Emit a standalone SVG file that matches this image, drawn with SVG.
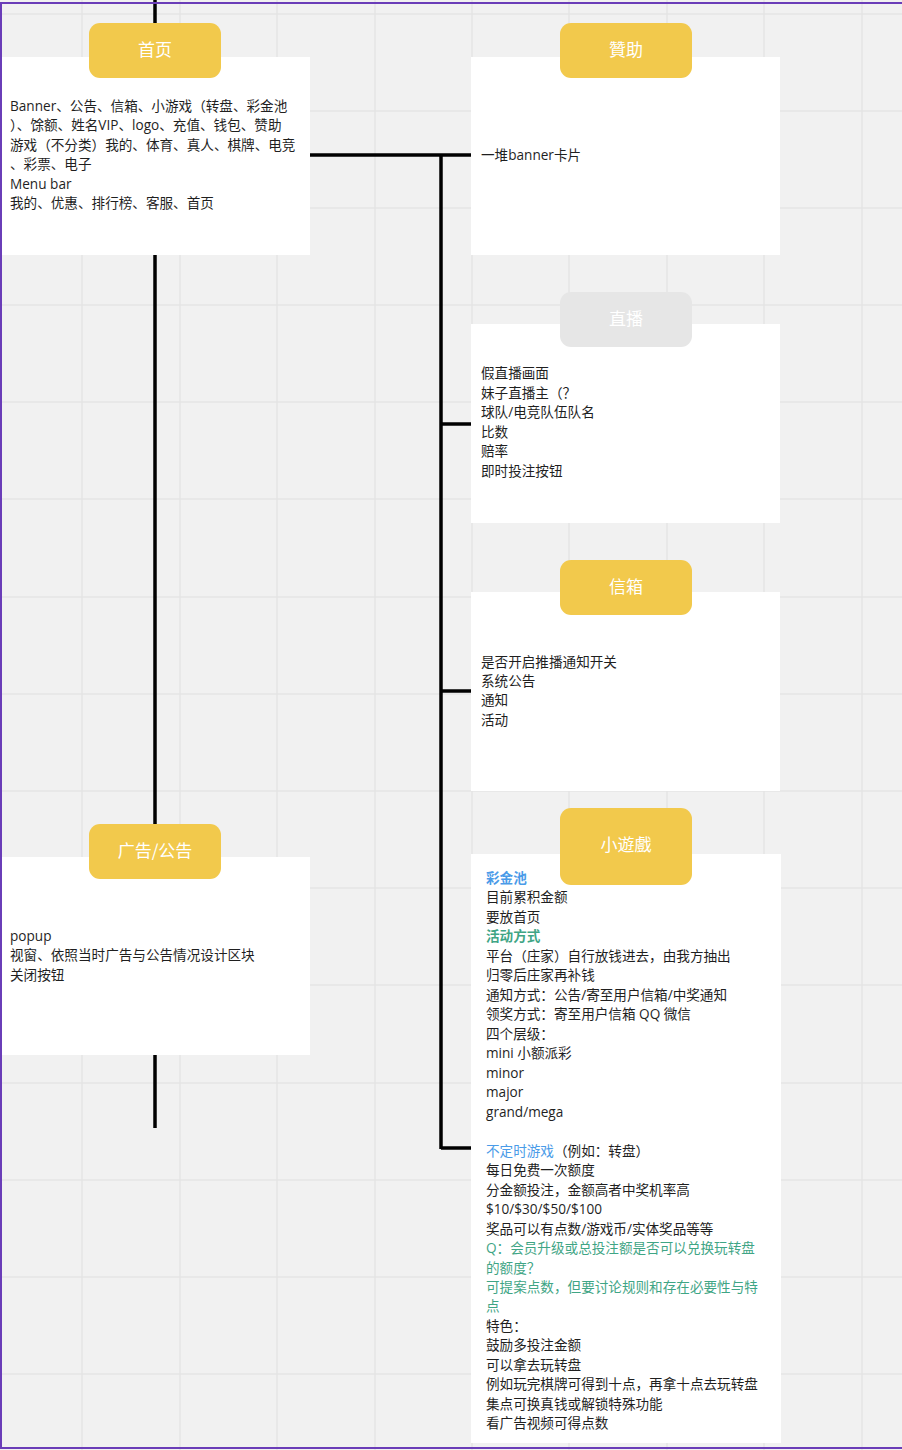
<svg xmlns="http://www.w3.org/2000/svg" width="902" height="1450" viewBox="0 0 902 1450">
<defs>
<style>
.grid line{stroke:#e4e4e4;stroke-width:1.5}
.card{fill:#ffffff}
.tag{fill:#f2c94c}
.tag-gray{fill:#e6e6e6}
.title{font-family:"Noto Sans CJK SC","Noto Sans",sans-serif;font-size:17px;fill:#ffffff;text-anchor:middle}
.body{font-family:"Open Sans","Noto Sans CJK SC",sans-serif;font-size:13.6px;fill:#1f1f1f}
.blue{fill:#4a9be8;font-weight:bold}
.blue2{fill:#4a9be8}
.green{fill:#3fa585;font-weight:bold}
.green2{fill:#3fa585}
.conn{stroke:#000000;stroke-width:3.5;fill:none}
</style>
</defs>
<rect x="0" y="0" width="902" height="1450" fill="#f1f1f1"/>
<g class="grid">
<line x1="82" y1="0" x2="82" y2="1450"/><line x1="180" y1="0" x2="180" y2="1450"/><line x1="277" y1="0" x2="277" y2="1450"/><line x1="375" y1="0" x2="375" y2="1450"/><line x1="472" y1="0" x2="472" y2="1450"/><line x1="569" y1="0" x2="569" y2="1450"/><line x1="667" y1="0" x2="667" y2="1450"/><line x1="764" y1="0" x2="764" y2="1450"/><line x1="862" y1="0" x2="862" y2="1450"/>
<line x1="0" y1="14" x2="902" y2="14"/><line x1="0" y1="111" x2="902" y2="111"/><line x1="0" y1="208" x2="902" y2="208"/><line x1="0" y1="305" x2="902" y2="305"/><line x1="0" y1="402" x2="902" y2="402"/><line x1="0" y1="499" x2="902" y2="499"/><line x1="0" y1="597" x2="902" y2="597"/><line x1="0" y1="694" x2="902" y2="694"/><line x1="0" y1="791" x2="902" y2="791"/><line x1="0" y1="888" x2="902" y2="888"/><line x1="0" y1="985" x2="902" y2="985"/><line x1="0" y1="1083" x2="902" y2="1083"/><line x1="0" y1="1180" x2="902" y2="1180"/><line x1="0" y1="1277" x2="902" y2="1277"/><line x1="0" y1="1374" x2="902" y2="1374"/>
</g>
<g id="connectors">
<line class="conn" x1="155" y1="0" x2="155" y2="1128" stroke-width="3.2"/>
<line class="conn" x1="310" y1="155" x2="471" y2="155"/>
<line class="conn" x1="441" y1="155" x2="441" y2="1149"/>
<line class="conn" x1="441" y1="424" x2="471" y2="424"/>
<line class="conn" x1="441" y1="691" x2="471" y2="691"/>
<line class="conn" x1="441" y1="1148" x2="471" y2="1148"/>
</g>
<g id="home">
<rect class="card" x="2" y="57" width="308" height="198"/>
<rect class="tag" x="89" y="23" width="132" height="55" rx="11"/>
<text class="title" x="155" y="56">首页</text>
<text class="body" x="10" y="111">Banner、公告、信箱、小游戏（转盘、彩金池</text>
<text class="body" x="10" y="130">）、馀额、姓名VIP、logo、充值、钱包、赞助</text>
<text class="body" x="10" y="150">游戏（不分类）我的、体育、真人、棋牌、电竞</text>
<text class="body" x="10" y="169">、彩票、电子</text>
<text class="body" x="10" y="189">Menu bar</text>
<text class="body" x="10" y="208">我的、优惠、排行榜、客服、首页</text>
</g>
<g id="sponsor">
<rect class="card" x="471" y="57" width="309" height="198"/>
<rect class="tag" x="560" y="23" width="132" height="55" rx="11"/>
<text class="title" x="626" y="56">贊助</text>
<text class="body" x="481" y="160">一堆banner卡片</text>
</g>
<g id="live">
<rect class="card" x="471" y="324" width="309" height="199"/>
<rect class="tag-gray" x="560" y="292" width="132" height="55" rx="11"/>
<text class="title" x="626" y="325">直播</text>
<text class="body" x="481" y="378">假直播画面</text>
<text class="body" x="481" y="398">妹子直播主（？</text>
<text class="body" x="481" y="417">球队/电竞队伍队名</text>
<text class="body" x="481" y="437">比数</text>
<text class="body" x="481" y="456">赔率</text>
<text class="body" x="481" y="476">即时投注按钮</text>
</g>
<g id="mailbox">
<rect class="card" x="471" y="592" width="309" height="199"/>
<rect class="tag" x="560" y="560" width="132" height="55" rx="11"/>
<text class="title" x="626" y="593">信箱</text>
<text class="body" x="481" y="667">是否开启推播通知开关</text>
<text class="body" x="481" y="686">系统公告</text>
<text class="body" x="481" y="705">通知</text>
<text class="body" x="481" y="725">活动</text>
</g>
<g id="ads">
<rect class="card" x="2" y="857" width="308" height="198"/>
<rect class="tag" x="89" y="824" width="132" height="55" rx="11"/>
<text class="title" x="155" y="857">广告/公告</text>
<text class="body" x="10" y="941">popup</text>
<text class="body" x="10" y="960">视窗、依照当时广告与公告情况设计区块</text>
<text class="body" x="10" y="980">关闭按钮</text>
</g>
<g id="minigame">
<rect class="card" x="471" y="854" width="310" height="589"/>
<rect class="tag" x="560" y="808" width="132" height="77" rx="11"/>
<text class="title" x="626" y="851">小遊戲</text>
<text class="body blue" x="486" y="883">彩金池</text>
<text class="body" x="486" y="902">目前累积金额</text>
<text class="body" x="486" y="922">要放首页</text>
<text class="body green" x="486" y="941">活动方式</text>
<text class="body" x="486" y="961">平台（庄家）自行放钱进去，由我方抽出</text>
<text class="body" x="486" y="980">归零后庄家再补钱</text>
<text class="body" x="486" y="1000">通知方式：公告/寄至用户信箱/中奖通知</text>
<text class="body" x="486" y="1019">领奖方式：寄至用户信箱 QQ 微信</text>
<text class="body" x="486" y="1039">四个层级：</text>
<text class="body" x="486" y="1058">mini 小额派彩</text>
<text class="body" x="486" y="1078">minor</text>
<text class="body" x="486" y="1097">major</text>
<text class="body" x="486" y="1117">grand/mega</text>
<text class="body" x="486" y="1156"><tspan class="blue2">不定时游戏</tspan>（例如：转盘）</text>
<text class="body" x="486" y="1175">每日免费一次额度</text>
<text class="body" x="486" y="1195">分金额投注，金额高者中奖机率高</text>
<text class="body" x="486" y="1214">$10/$30/$50/$100</text>
<text class="body" x="486" y="1234">奖品可以有点数/游戏币/实体奖品等等</text>
<text class="body green2" x="486" y="1253">Q：会员升级或总投注额是否可以兑换玩转盘</text>
<text class="body green2" x="486" y="1273">的额度？</text>
<text class="body green2" x="486" y="1292">可提案点数，但要讨论规则和存在必要性与特</text>
<text class="body green2" x="486" y="1311">点</text>
<text class="body" x="486" y="1331">特色：</text>
<text class="body" x="486" y="1350">鼓励多投注金额</text>
<text class="body" x="486" y="1370">可以拿去玩转盘</text>
<text class="body" x="486" y="1389">例如玩完棋牌可得到十点，再拿十点去玩转盘</text>
<text class="body" x="486" y="1409">集点可换真钱或解锁特殊功能</text>
<text class="body" x="486" y="1428">看广告视频可得点数</text>
</g>
<rect x="1" y="3" width="904" height="1445" fill="none" stroke="#6a3db8" stroke-width="2"/>
</svg>
